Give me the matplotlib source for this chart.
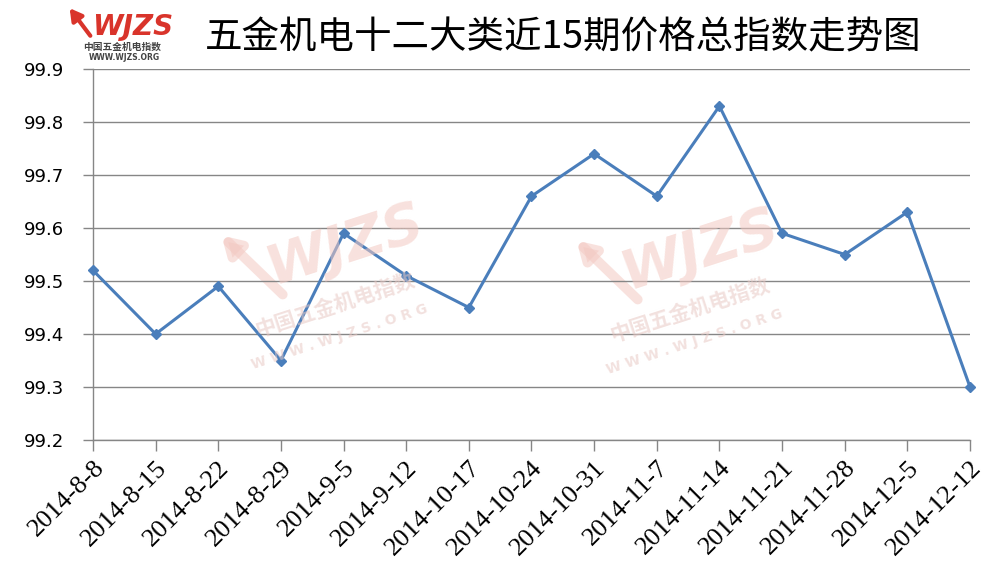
import matplotlib
matplotlib.use("Agg")
import matplotlib.pyplot as plt

dates = ["2014-8-8", "2014-8-15", "2014-8-22", "2014-8-29", "2014-9-5", "2014-9-12",
         "2014-10-17", "2014-10-24", "2014-10-31", "2014-11-7", "2014-11-14",
         "2014-11-21", "2014-11-28", "2014-12-5", "2014-12-12"]
values = [99.52, 99.40, 99.49, 99.35, 99.59, 99.51, 99.45, 99.66, 99.74, 99.66,
          99.83, 99.59, 99.55, 99.63, 99.30]
yticks = [99.2, 99.3, 99.4, 99.5, 99.6, 99.7, 99.8, 99.9]
title = "五金机电十二大类近15期价格总指数走势图"

fig = plt.figure(figsize=(10.04, 5.72), dpi=100)
ax = fig.add_axes([93/1004, 1-440/572, (970-93)/1004, (440-69)/572])

grid_c = "#868686"
x = list(range(len(values)))

# watermarks
for (cx, cy) in [(345/1004, 1-245/572), (700/1004, 1-250/572)]:
    fig.text(cx, cy, "WJZS", fontsize=40, fontweight="bold", style="italic",
             color="#f3c9c2", alpha=0.55, rotation=18, ha="center", va="center",
             family="DejaVu Sans", zorder=0.5)
    fig.text(cx - 0.01, cy - 0.105, "中国五金机电指数", fontsize=15, fontweight="bold",
             color="#e8c8c4", alpha=0.55, rotation=18, ha="center", va="center",
             family=["Noto Sans CJK SC", "DejaVu Sans"], zorder=0.5)
    fig.text(cx - 0.005, cy - 0.16, "W W W . W J Z S . O R G", fontsize=10, fontweight="bold",
             color="#e8c8c4", alpha=0.55, rotation=18, ha="center", va="center",
             family="DejaVu Sans", zorder=0.5)
    ax.annotate("", xy=(cx - 0.125, cy + 0.02), xytext=(cx - 0.06, cy - 0.09),
                xycoords="figure fraction", textcoords="figure fraction",
                arrowprops=dict(arrowstyle="-|>,head_width=0.6,head_length=1.0",
                                lw=7, color="#f3c9c2", alpha=0.55), zorder=0.5)

ax.patch.set_alpha(0)
ax.plot(x, values, color="#4A7EBB", lw=2.2, marker="D", ms=5.5,
        markerfacecolor="#4A7EBB", markeredgecolor="#4A7EBB", zorder=3, clip_on=False)

ax.set_xlim(0, len(values) - 1)
ax.set_ylim(99.2, 99.9)
ax.set_yticks(yticks)
ax.set_yticklabels([f"{v:.1f}" for v in yticks])
ax.set_xticks(x)
ax.set_xticklabels(dates)
for lbl in ax.get_yticklabels():
    lbl.set_fontfamily("DejaVu Sans")
    lbl.set_fontsize(13)
for lbl in ax.get_xticklabels():
    lbl.set_fontfamily(["Liberation Serif"])
    lbl.set_fontsize(19)
    lbl.set_rotation(45)
    lbl.set_ha("right")
    lbl.set_va("top")
    lbl.set_rotation_mode("anchor")
ax.yaxis.grid(True, color=grid_c, lw=1)
ax.set_axisbelow(True)
for s in ["top", "right"]:
    ax.spines[s].set_visible(False)
for s in ["left", "bottom"]:
    ax.spines[s].set_color(grid_c)
    ax.spines[s].set_linewidth(1)
ax.tick_params(axis="y", length=7, color=grid_c, width=1, pad=14)
ax.tick_params(axis="x", length=8, color=grid_c, width=1, pad=4)

# title
fig.text(563/1004, 1-38/572, title, fontsize=27, ha="center", va="center",
         family=["Noto Sans CJK SC", "DejaVu Sans"])

# logo
fig.text(133/1004, 1-27/572, "WJZS", fontsize=20, fontweight="bold", style="italic",
         color="#d9342b", ha="center", va="center", family="DejaVu Sans")
ax.annotate("", xy=(68/1004, 1-6/572), xytext=(92/1004, 1-38/572),
            xycoords="figure fraction", textcoords="figure fraction",
            arrowprops=dict(arrowstyle="-|>,head_width=0.4,head_length=0.7",
                            lw=3, color="#d9342b"))
fig.text(122/1004, 1-47/572, "中国五金机电指数", fontsize=7, fontweight="bold",
         color="#444444", ha="center", va="center",
         family=["Noto Sans CJK SC", "DejaVu Sans"])
fig.text(124/1004, 1-58/572, "WWW.WJZS.ORG", fontsize=5.5, fontweight="bold",
         color="#444444", ha="center", va="center", family="DejaVu Sans")

fig.savefig("out.png", dpi=100)
